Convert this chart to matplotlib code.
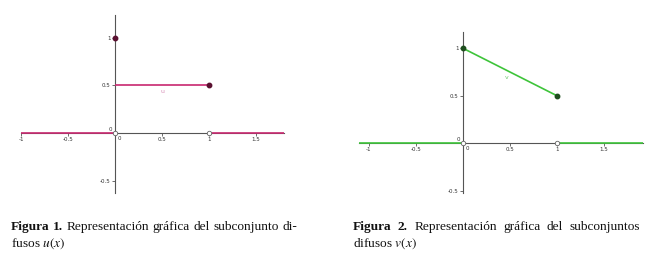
import matplotlib
matplotlib.use('Agg')
import matplotlib.pyplot as plt

plt.rcParams['mathtext.fontset'] = 'stix'

# u(x): piecewise constant
u_segments = [([-1.0, 0.0], [0.0, 0.0]),
              ([0.0, 1.0], [0.5, 0.5]),
              ([1.0, 1.8], [0.0, 0.0])]
u_closed_x = [0, 1]
u_closed_y = [1, 0.5]
u_open_x = [0, 1]
u_open_y = [0, 0]

# v(x): decreasing segment on [0, 1]
v_segments = [([-1.1, 0.0], [0.0, 0.0]),
              ([0.0, 1.0], [1.0, 0.5]),
              ([1.0, 1.92], [0.0, 0.0])]
v_closed_x = [0, 1]
v_closed_y = [1, 0.5]
v_open_x = [0, 1]
v_open_y = [0, 0]

x_ticks = [-1, -0.5, 0.5, 1, 1.5]
x_labels = ['-1', '-0.5', '0.5', '1', '1.5']
y_ticks = [-0.5, 0.5, 1]
y_labels = ['-0.5', '0.5', '1']

W, H = 646, 254
fig = plt.figure(figsize=(W / 100, H / 100), dpi=100)


def px_axes(left, top, right, bottom):
    return fig.add_axes([left / W, 1 - bottom / H, (right - left) / W, (bottom - top) / H])


def setup(ax, xlim, ylim):
    ax.set_xlim(*xlim)
    ax.set_ylim(*ylim)
    ax.patch.set_alpha(0)
    for s in ['top', 'right']:
        ax.spines[s].set_visible(False)
    ax.spines['left'].set_position(('data', 0))
    ax.spines['bottom'].set_position(('data', 0))
    for s in ['left', 'bottom']:
        ax.spines[s].set_color('#555555')
        ax.spines[s].set_linewidth(0.8)
    ax.set_xticks(x_ticks)
    ax.set_xticklabels(x_labels)
    ax.set_yticks(y_ticks)
    ax.set_yticklabels(y_labels)
    ax.tick_params(direction='out', length=2, width=0.6, color='#555555',
                   labelsize=4, labelcolor='#333333', pad=1)
    ax.text(0.03, -0.03, '0', fontsize=4, color='#333333', ha='left', va='top')
    ax.text(-0.03, 0.01, '0', fontsize=4, color='#333333', ha='right', va='bottom')


# left chart: u(x)
ax1 = px_axes(21, 15, 284, 193)
setup(ax1, (-1.0, 1.8), (-0.63, 1.24))
for xs, ys in u_segments:
    ax1.plot(xs, ys, color='#c8286f', lw=1.2, solid_capstyle='butt', zorder=3)
ax1.plot(u_closed_x, u_closed_y, 'o', ms=3.2, color='#5a1030', zorder=5)
ax1.plot(u_open_x, u_open_y, 'o', ms=3.2, mfc='white', mec='#666666', mew=0.6, zorder=5)
ax1.text(0.51, 0.435, 'u', fontsize=4.5, color='#d890b8', ha='center', va='center')

# right chart: v(x)
ax2 = px_axes(359.3, 32, 643.2, 193.4)
setup(ax2, (-1.1, 1.92), (-0.53, 1.17))
for xs, ys in v_segments:
    ax2.plot(xs, ys, color='#3ec43a', lw=1.2, solid_capstyle='butt', zorder=3)
ax2.plot(v_closed_x, v_closed_y, 'o', ms=3.2, color='#1f4f1f', zorder=5)
ax2.plot(v_open_x, v_open_y, 'o', ms=3.2, mfc='white', mec='#666666', mew=0.6, zorder=5)
ax2.text(0.47, 0.69, 'v', fontsize=4.5, color='#70c870', ha='center', va='center')

# captions
renderer = fig.canvas.get_renderer()
cap_font = dict(family='Liberation Serif', fontsize=9.6, color='#111111')


def justify(words, x0, x1, ybase):
    # words: list of (text, weight); spread over [x0, x1] pixels
    objs = [fig.text(0, 1 - ybase / H, t, fontweight=w, va='baseline', **cap_font)
            for t, w in words]
    widths = [o.get_window_extent(renderer).width for o in objs]
    gap = (x1 - x0 - sum(widths)) / (len(objs) - 1)
    x = x0
    for o, w in zip(objs, widths):
        o.set_x(x / W)
        x += w + gap


justify([('Figura', 'bold'), ('1.', 'bold'), ('Representación', 'normal'),
         ('gráfica', 'normal'), ('del', 'normal'), ('subconjunto', 'normal'),
         ('di-', 'normal')], 11, 297, 230)
fig.text(11 / W, 1 - 246.5 / H, 'fusos $u(x)$', va='baseline', **cap_font)

justify([('Figura', 'bold'), ('2.', 'bold'), ('Representación', 'normal'),
         ('gráfica', 'normal'), ('del', 'normal'), ('subconjuntos', 'normal')],
        353, 640, 230)
fig.text(353 / W, 1 - 246.5 / H, 'difusos $v(x)$', va='baseline', **cap_font)

fig.savefig('out.png', dpi=100)
